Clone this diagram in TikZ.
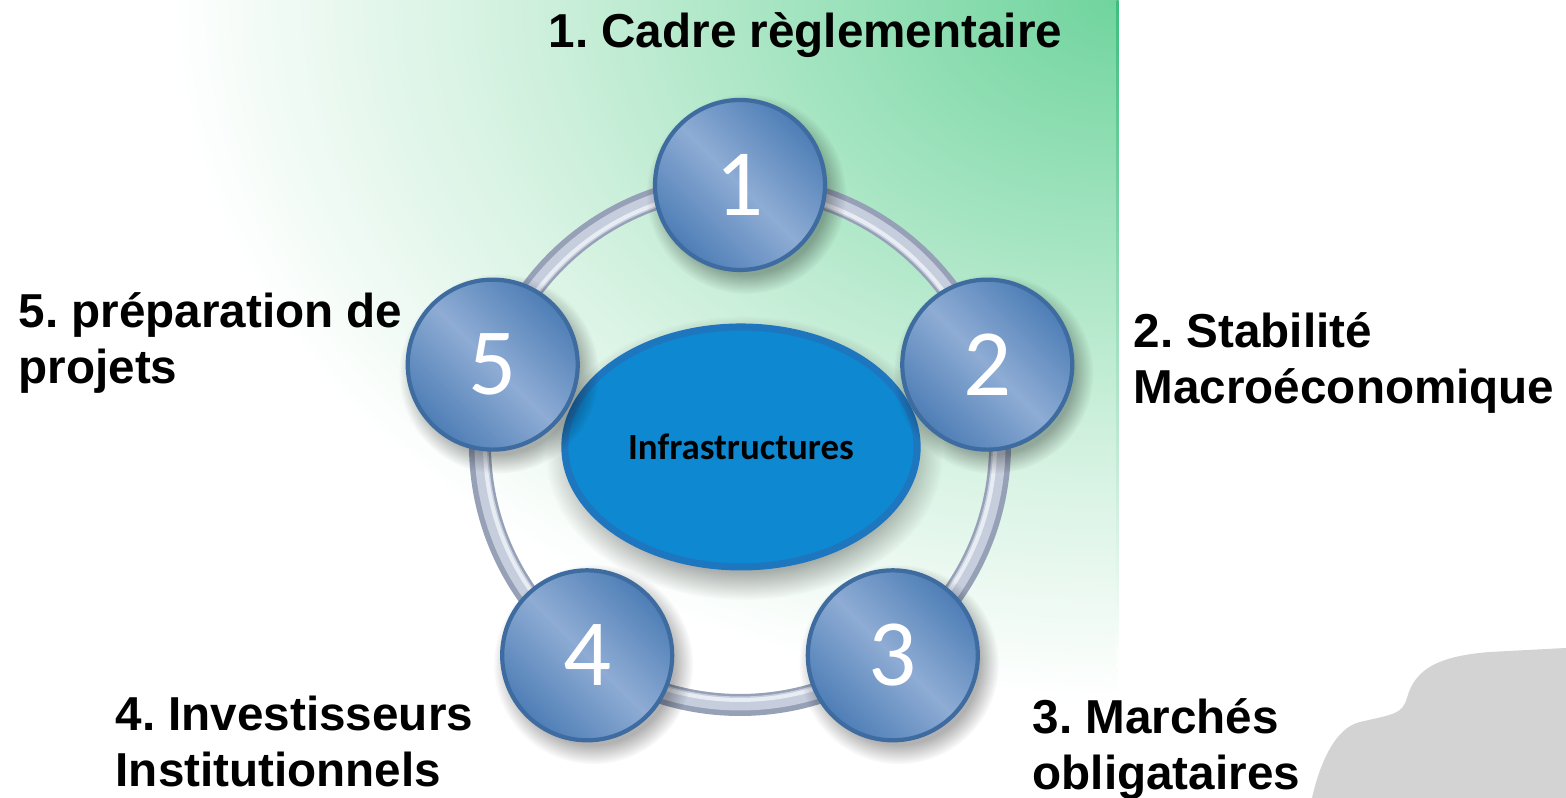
\documentclass[tikz,border=0pt]{standalone}
\usepackage{fontspec}
\setmainfont{Liberation Sans}
\newfontfamily\numfont{Carlito}
\usetikzlibrary{positioning, fadings, shapes.geometric}
\frenchspacing

\definecolor{glowA}{RGB}{112,212,158}
\definecolor{glowB}{RGB}{160,227,190}
\definecolor{glowC}{RGB}{210,241,223}
\definecolor{edgeGreen}{RGB}{60,190,125}
\definecolor{ballDark}{RGB}{78,126,182}
\definecolor{ballLight}{RGB}{142,172,212}
\definecolor{ballRim}{RGB}{62,108,160}
\definecolor{ringDark}{RGB}{150,160,182}
\definecolor{ringMid}{RGB}{198,206,222}
\definecolor{ringLight}{RGB}{232,236,243}
\definecolor{hubBlue}{RGB}{14,136,208}
\definecolor{hubRim}{RGB}{30,118,190}
\definecolor{blobGray}{RGB}{211,211,211}

\pgfdeclareradialshading{greenglow}{\pgfpoint{0bp}{0bp}}{color(0bp)=(glowA); color(8bp)=(glowB); color(16bp)=(glowC); color(25bp)=(white); color(50bp)=(white)}

\begin{document}
\begin{tikzpicture}[
    % --- Styles ---
    item label/.style={font=\bfseries\fontsize{13.55}{16.2}\selectfont, align=left, inner sep=0pt},
    num ball/.style={circle, minimum size=1.7cm, inner sep=0pt, draw=ballRim, line width=1.2pt,
        left color=ballDark, right color=ballDark, middle color=ballLight, shading angle=135,
        text=white, font=\numfont\fontsize{27}{27}\selectfont},
    hub/.style={ellipse, minimum width=3.52cm, minimum height=2.4cm, fill=hubBlue, draw=hubRim,
        line width=2pt, font=\numfont\bfseries\fontsize{10.5}{12}\selectfont},
    soft shadow/.style={fill=black, fill opacity=0.3, path fading=circle with fuzzy edge 20 percent}
]
    \useasboundingbox (0,0) rectangle (15.66,7.98);

    %% --- BACKGROUND ---
    \begin{scope}
        \clip (0,0) rectangle (11.18,7.98);
        \shade[shading=greenglow] (11.18,7.98) ellipse [x radius=9.5, y radius=7];
    \end{scope}
    \shade[top color=edgeGreen, bottom color=white] (11.165,1.3) rectangle (11.185,7.98);

    % grey blob, bottom right
    \fill[blobGray] (13.12,0) .. controls (13.2,0.35) and (13.35,0.7) .. (13.6,0.76)
        .. controls (13.95,0.84) and (14.02,0.84) .. (14.07,1.0)
        .. controls (14.15,1.3) and (14.4,1.42) .. (14.9,1.46)
        -- (15.66,1.5) -- (15.66,0) -- cycle;

    %% --- RING ---
    \coordinate (ringc) at (7.40,3.53);
    \draw[ringDark, line width=0.22cm] (ringc) circle (2.6);
    \draw[ringMid, line width=0.14cm] (ringc) circle (2.585);
    \draw[ringLight, line width=0.04cm] (ringc) circle (2.55);

    % Hub
    \fill[soft shadow] (7.44,3.40) ellipse [x radius=1.98, y radius=1.42];
    \node[hub] (hub) at (7.41,3.51) {Infrastructures};

    % Numbered balls
    \foreach \n/\a in {1/90, 2/18, 3/-54, 4/-126, 5/162} {
        \fill[soft shadow] ([shift={(\a:2.6)}]ringc) ++(0.06,-0.09) circle (1.0);
        \node[num ball] (ball\n) at ([shift={(\a:2.6)}]ringc) {\n};
    }

    %% --- LABELS (base = last line) ---
    \node[item label, anchor=base west] (lab1) at (5.48,7.50) {1. Cadre règlementaire};
    \node[item label, anchor=base west] (lab5) at (0.18,4.14) {5. préparation de\\projets};
    \node[item label, anchor=base west] (lab2) at (11.33,3.94) {2. Stabilité\\Macroéconomique};
    \node[item label, anchor=base west] (lab4) at (1.15,0.11) {4. Investisseurs\\Institutionnels};
    \node[item label, anchor=base west] (lab3) at (10.32,0.08) {3. Marchés\\obligataires};
\end{tikzpicture}
\end{document}
